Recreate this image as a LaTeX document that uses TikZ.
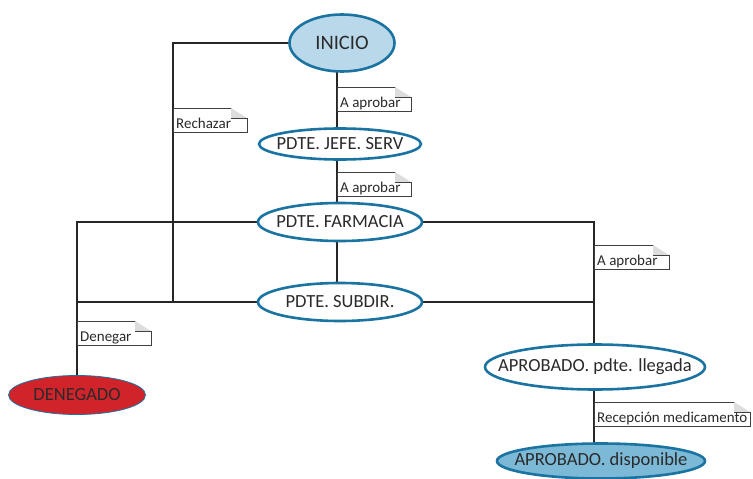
\documentclass[tikz,border=0pt]{standalone}
\usepackage{fontspec}
\setmainfont{Carlito}
\usetikzlibrary{shapes.geometric,backgrounds}
\definecolor{rim}{HTML}{1A73A0}
\definecolor{lightfill}{HTML}{B9D9EA}
\definecolor{midfill}{HTML}{7BB9D7}
\definecolor{redfill}{HTML}{D1232A}
\definecolor{txt}{HTML}{2A2A2A}
\definecolor{foldgray}{HTML}{DDDDDD}
\tikzset{
  state/.style={ellipse, draw=rim, line width=2.6pt, fill=white, inner sep=0pt},
  statetext/.style={inner sep=0pt, text=txt, font=\fontsize{18.5}{20}\selectfont},
  conn/.style={draw=black!85, line width=1.3pt},
  notebody/.style={fill=white, draw=black!75, line width=0.7pt},
  notefold/.style={fill=foldgray, draw=none},
  notetext/.style={inner sep=0pt, anchor=base west, text=txt, font=\fontsize{15}{16}\selectfont},
}
\newcommand\mynote[5]{% name, x, ytop, width, text
  \path[notebody] (#2,#3) -- (#2+#4-16,#3) -- (#2+#4-16,#3+10) -- (#2+#4,#3+10) -- (#2+#4,#3+24) -- (#2,#3+24) -- cycle;
  \path[notefold] (#2+#4-16,#3) -- (#2+#4,#3+10) -- (#2+#4-16,#3+10) -- cycle;
  \draw[black!75, line width=0.7pt] (#2+#4-16,#3+10) -- (#2+#4,#3+10);
  \node[notetext] (#1) at (#2+3,#3+20) {#5};
}
\begin{document}
\begin{tikzpicture}[x=1pt,y=-1pt]
\useasboundingbox (0,0) rectangle (753,479);
% states
\node[state, fill=lightfill, minimum width=105, minimum height=57,
  label={[statetext, font=\fontsize{20.5}{22}\selectfont]center:INICIO}] (inicio) at (342,43) {};
\node[state, minimum width=162, minimum height=31,
  label={[statetext]center:PDTE. JEFE. SERV}] (jefe) at (340,144) {};
\node[state, minimum width=164, minimum height=38,
  label={[statetext]center:PDTE. FARMACIA}] (farm) at (340,222) {};
\node[state, minimum width=164, minimum height=38,
  label={[statetext]center:PDTE. SUBDIR.}] (subdir) at (340,302) {};
\node[state, minimum width=220, minimum height=45,
  label={[statetext]center:APROBADO. pdte. llegada}] (llegada) at (595,367) {};
\node[state, fill=midfill, minimum width=208, minimum height=35,
  label={[statetext]center:APROBADO. disponible}] (disp) at (601,461) {};
\node[state, fill=redfill, line width=0.8pt, minimum width=137, minimum height=39,
  label={[statetext]center:DENEGADO}] (deneg) at (77,395) {};
% junction points
\coordinate (rtop) at (173,43);
\coordinate (rbot) at (173,302);
\coordinate (ltop) at (77,222);
\coordinate (lmid) at (77,302);
\coordinate (rgt) at (594,222);
\coordinate (rgtm) at (594,302);
\begin{scope}[on background layer]
  \draw[conn] ([xshift=-5pt]inicio.center) -- ([xshift=-3pt]jefe.center);
  \draw[conn] ([xshift=-3pt]jefe.center) -- ([xshift=-3pt]farm.center);
  \draw[conn] ([xshift=-3pt]farm.center) -- ([xshift=-3pt]subdir.center);
  \draw[conn] (inicio.center) -- (rtop) -- (rbot);
  \draw[conn] (farm.center) -- (ltop) -- (deneg.center);
  \draw[conn] (subdir.center) -- (lmid);
  \draw[conn] (farm.center) -- (rgt) -- ([xshift=-1pt]llegada.center);
  \draw[conn] (subdir.center) -- (rgtm);
  \draw[conn] ([xshift=-1pt]llegada.center) -- ([xshift=-7pt]disp.center);
\end{scope}
% notes
\mynote{n1}{337}{87}{74}{A aprobar}
\mynote{n2}{337}{172}{74}{A aprobar}
\mynote{n3}{173}{108}{74}{Rechazar}
\mynote{n4}{594}{245}{75}{A aprobar}
\mynote{n5}{77}{321}{74}{Denegar}
\mynote{n6}{594}{402}{156}{Recepción medicamento}
\end{tikzpicture}
\end{document}
